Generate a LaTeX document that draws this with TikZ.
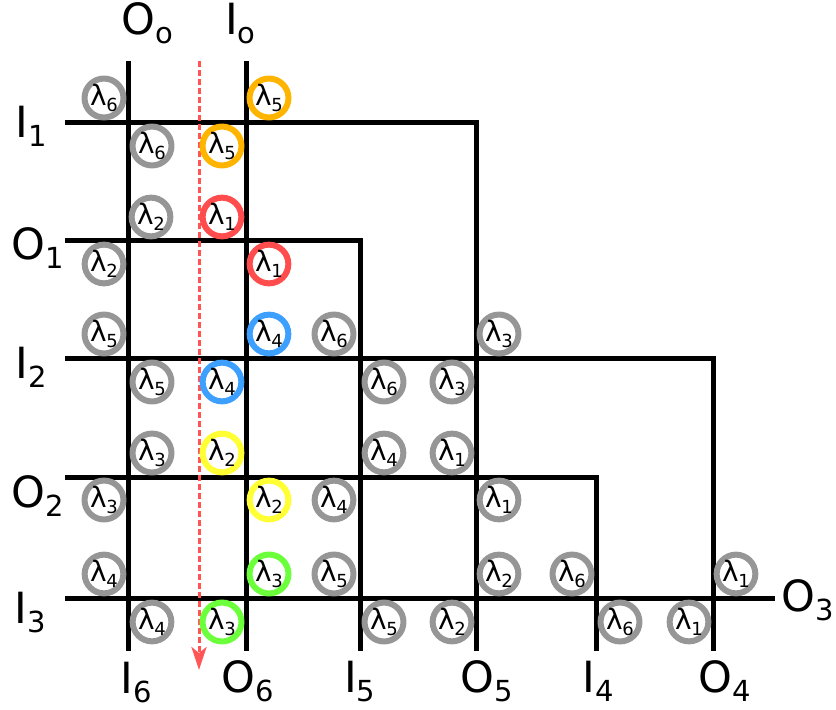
\documentclass[tikz,border=0pt]{standalone}
\usepackage{fontspec}
\setmainfont{DejaVu Sans}
\usetikzlibrary{arrows.meta}

\definecolor{ringgray}{RGB}{150,150,150}
\definecolor{ringorange}{RGB}{255,181,0}
\definecolor{ringred}{RGB}{255,77,77}
\definecolor{ringblue}{RGB}{61,160,255}
\definecolor{ringyellow}{RGB}{255,255,51}
\definecolor{ringgreen}{RGB}{108,255,60}
\definecolor{probered}{RGB}{255,85,85}

\newcommand{\port}[2]{#1\raisebox{-9pt}{\fontsize{29}{29}\selectfont #2}}
\newcommand{\lam}[1]{λ\kern-0.5pt\raisebox{-6pt}{\fontsize{18}{18}\selectfont #1}}

\begin{document}
\begin{tikzpicture}[x=1pt, y=-1pt,
    guide/.style={line width=5pt},
    ring/.style={circle, draw=#1, line width=6pt, minimum size=35pt, inner sep=0pt,
        font=\fontsize{28}{28}\selectfont},
    portlbl/.style={anchor=base west, inner sep=0pt, font=\fontsize{43}{43}\selectfont}]
    \useasboundingbox (0,0) rectangle (836,710);

    % Line ends and corners
    \foreach \n/\x/\y in {o0a/128/61, o0b/128/651, i0a/246/61, i0b/246/651,
        i1a/65/122, o5b/476/651, o1a/65/240, i5b/360/651,
        i2a/65/358, o4b/713/651, o2a/65/477, i4b/596/651,
        i3a/65/598, o3b/775/598, probein/199/61, probeout/199/670}
        \coordinate (\n) at (\x,\y);

    % Waveguides
    \draw[guide] (o0a) -- (o0b);
    \draw[guide] (i0a) -- (i0b);
    \draw[guide] (i1a) -| (o5b);
    \draw[guide] (o1a) -| (i5b);
    \draw[guide] (i2a) -| (o4b);
    \draw[guide] (o2a) -| (i4b);
    \draw[guide] (i3a) -- (o3b);

    % Signal path
    \draw[probered, line width=3pt, dash pattern=on 6pt off 3pt,
        -{Stealth[length=23pt, width=15pt, inset=6pt]}] (probein) -- (probeout);

    % Wavelengths at the crossings
    \foreach \x/\y/\k/\c [count=\i] in {
        104/98/6/gray, 152/146/6/gray, 269/98/5/orange, 222/146/5/orange,
        151/217/2/gray, 104/264/2/gray, 222/217/1/red, 269/264/1/red,
        104/334/5/gray, 152/382/5/gray, 269/334/4/blue, 222/382/4/blue,
        334/334/6/gray, 384/382/6/gray, 499/334/3/gray, 452/382/3/gray,
        152/453/3/gray, 104/500/3/gray, 222/453/2/yellow, 269/500/2/yellow,
        384/453/4/gray, 334/500/4/gray, 452/453/1/gray, 499/500/1/gray,
        104/574/4/gray, 152/622/4/gray, 269/574/3/green, 222/622/3/green,
        334/574/5/gray, 384/622/5/gray, 499/574/2/gray, 452/622/2/gray,
        572/574/6/gray, 620/622/6/gray, 736/574/1/gray, 689/622/1/gray}
        \node[ring=ring\c] (w\i) at (\x,\y) {\lam{\k}};

    % Ports
    \foreach \n/\x/\y/\a/\b in {
        O0/121/34/O/o, I0/225/34/I/o,
        I1/15.5/137/I/1, O1/11/259/O/1, I2/15.5/378/I/2,
        O2/11/507/O/2, I3/14.5/623/I/3, O3/781/611/O/3,
        I6/120.5/693/I/6, O6/221/692/O/6, I5/344/692/I/5,
        O5/460/692/O/5, I4/582.5/692/I/4, O4/698/692/O/4}
        \node[portlbl] (p\n) at (\x,\y) {\port{\a}{\b}};
\end{tikzpicture}
\end{document}
